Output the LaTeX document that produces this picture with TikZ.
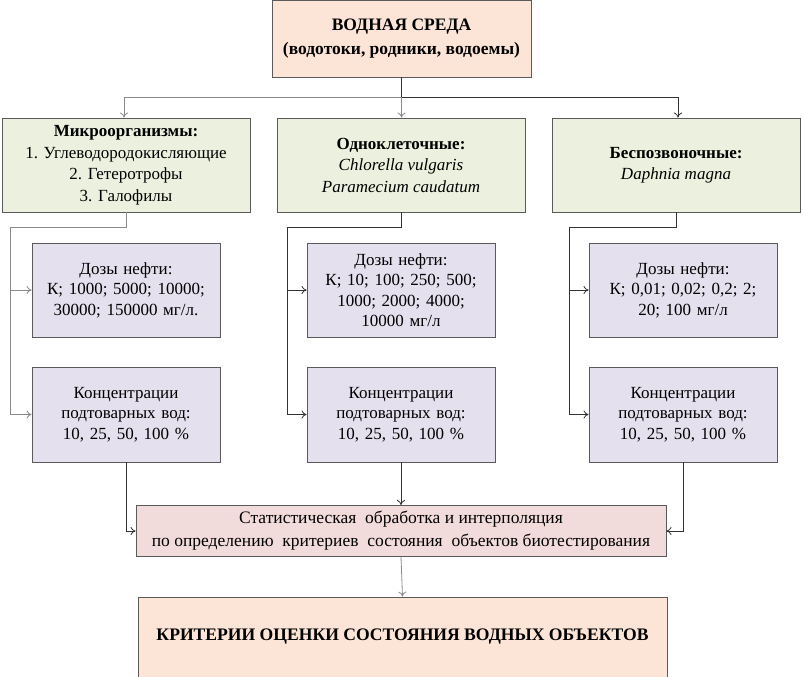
\documentclass[tikz,border=0pt]{standalone}
\usepackage{fontspec}
\setmainfont{Liberation Serif}
\usetikzlibrary{arrows.meta}
\definecolor{peach}{HTML}{FCE4D6}
\definecolor{olivebg}{HTML}{EBF1DE}
\definecolor{lavbg}{HTML}{E4E0EE}
\definecolor{pinkbg}{HTML}{F2DCDB}
\definecolor{edge}{HTML}{5A5A5A}
\definecolor{lline}{HTML}{8A8A8A}
\definecolor{dline}{HTML}{333333}
\tikzset{
  box/.style={draw=edge, line width=0.9pt, align=center, inner sep=2pt,
    font=\fontsize{17}{20.5}\selectfont},
  topbox/.style={box, fill=peach, minimum width=259pt, minimum height=77pt, font=\fontsize{17.5}{24}\selectfont},
  orgbox/.style={box, fill=olivebg, minimum width=248pt, minimum height=94pt, font=\fontsize{17}{21.5}\selectfont},
  dosebox/.style={box, fill=lavbg, minimum width=188pt, minimum height=94pt, text width=184pt},
  statbox/.style={box, fill=pinkbg, minimum width=530pt, minimum height=51pt, font=\fontsize{17.5}{23}\selectfont},
  finbox/.style={box, fill=peach, minimum width=529pt, minimum height=80pt, font=\fontsize{17.6}{21}\selectfont},
  conn/.style={line width=0.8pt, dline, -{To[length=5pt,width=8pt]}},
  lconn/.style={conn, lline},
  plain/.style={line width=0.8pt, dline},
  lplain/.style={plain, lline}
}
\begin{document}
\begin{tikzpicture}[x=1pt,y=-1pt]
\useasboundingbox (0,0) rectangle (803,677);
\node[topbox] (top) at (401.5,38.5) {\textbf{ВОДНАЯ СРЕДА}\\\textbf{(водотоки, родники, водоемы)}};
\node[orgbox] (L1) at (126,165) {\textbf{Микроорганизмы:}\\1. Углеводородокисляющие\\2. Гетеротрофы\\3. Галофилы};
\node[orgbox] (M1) at (401,165) {\textbf{Одноклеточные:}\\\textit{Chlorella vulgaris}\\\textit{Paramecium caudatum}};
\node[orgbox] (R1) at (676,165) {\textbf{Беспозвоночные:}\\\textit{Daphnia magna}};
\node[dosebox] (LD) at (126,290) {Дозы нефти:\\К; 1000; 5000; 10000;\\30000; 150000 мг/л.};
\node[dosebox] (MD) at (401,290) {Дозы нефти:\\К; 10; 100; 250; 500;\\1000; 2000; 4000;\\10000 мг/л};
\node[dosebox] (RD) at (683,290) {Дозы нефти:\\К; 0,01; 0,02; 0,2; 2;\\20; 100 мг/л};
\node[dosebox, minimum height=95pt] (LC) at (126,414.5) {Концентрации\\подтоварных вод:\\10, 25, 50, 100 \%};
\node[dosebox, minimum height=95pt] (MC) at (401,414.5) {Концентрации\\подтоварных вод:\\10, 25, 50, 100 \%};
\node[dosebox, minimum height=95pt] (RC) at (683,414.5) {Концентрации\\подтоварных вод:\\10, 25, 50, 100 \%};
\node[statbox] (S) at (401,531) {Статистическая\ \ обработка и интерполяция\\по определению\ \ критериев\ \ состояния\ \ объектов\ биотестирования};
\node[finbox] (F) at (402.5,637) {\textbf{КРИТЕРИИ ОЦЕНКИ СОСТОЯНИЯ ВОДНЫХ ОБЪЕКТОВ}};
% top distribution
\coordinate (tj) at (401.5,97);
\coordinate (tl) at (124,97);
\coordinate (tr) at (678,97);
\draw[plain] (top.south) -- (tj);
\draw[lplain] (tj) -- (tl);
\draw[plain] (tj) -- (tr);
\draw[lconn] (tl) -- (tl |- L1.north);
\draw[lconn] (tj) -- (tj |- M1.north);
\draw[conn] (tr) -- (tr |- R1.north);
% left branch
\coordinate (lj) at (10,227);
\draw[lplain] (L1.south) |- (lj);
\draw[lconn] (lj) |- (LC.west);
\draw[lconn] (lj |- LD.west) -- (LD.west);
% middle branch
\coordinate (mj) at (287,227);
\draw[plain] (M1.south) |- (mj);
\draw[conn] (mj) |- (MC.west);
\draw[conn] (mj |- MD.west) -- (MD.west);
% right branch
\coordinate (rj) at (569,227);
\draw[plain] (R1.south) |- (rj);
\draw[conn] (rj) |- (RC.west);
\draw[conn] (rj |- RD.west) -- (RD.west);
% to stat box
\draw[conn] (LC.south) |- (S.west);
\draw[conn] (MC.south) -- (S.north);
\draw[conn] (RC.south) |- (S.east);
\draw[lconn] (S.south) -- (F.north);
\end{tikzpicture}
\end{document}
